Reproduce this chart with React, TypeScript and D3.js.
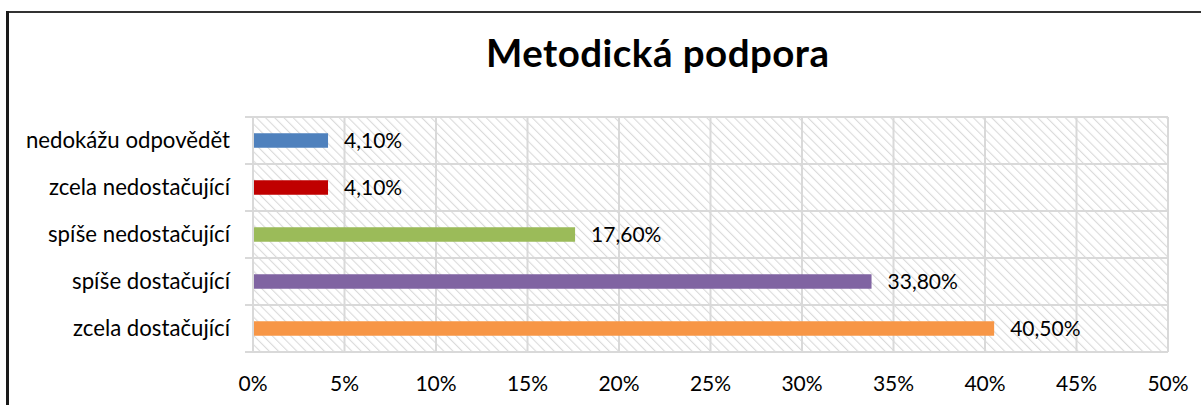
import React from "react";
import * as d3 from "d3";

const categories = [
  "nedokážu odpovědět",
  "zcela nedostačující",
  "spíše nedostačující",
  "spíše dostačující",
  "zcela dostačující",
];
const values = [4.1, 4.1, 17.6, 33.8, 40.5];
const valueLabels = ["4,10%", "4,10%", "17,60%", "33,80%", "40,50%"];
const colors = ["#4f81bd", "#c00000", "#9bbb59", "#8064a2", "#f79646"];
const ticks = [0, 5, 10, 15, 20, 25, 30, 35, 40, 45, 50];
const title = "Metodická podpora";

const W = 1201;
const H = 405;
const plot = { left: 253, right: 1168, top: 117, bottom: 352 };
const font = "Lato, 'Open Sans', sans-serif";
const grid = "#d9d9d9";

export default function App() {
  const x = d3.scaleLinear().domain([0, 50]).range([plot.left, plot.right]);
  const y = d3
    .scaleBand<string>()
    .domain(categories)
    .range([plot.top, plot.bottom])
    .paddingInner(0)
    .paddingOuter(0);
  const bw = y.bandwidth();
  const barH = 14.5;
  const rowLines = d3.range(categories.length + 1).map((i) => plot.top + i * bw);

  return (
    <svg
      width={W}
      height={H}
      style={{ position: "absolute", left: 0, top: 0, background: "#fff" }}
    >
      <defs>
        <pattern
          id="hatch"
          width={6.5}
          height={6.5}
          patternUnits="userSpaceOnUse"
          patternTransform="rotate(-45)"
        >
          <rect width={6.5} height={6.5} fill="#fff" />
          <line x1={0} y1={0} x2={0} y2={6.5} stroke="#dadada" strokeWidth={2.2} />
        </pattern>
      </defs>
      <rect x={0} y={0} width={W} height={H} fill="#fff" />
      {/* frame */}
      <rect x={6} y={11} width={W} height={2} fill="#333" />
      <rect x={6} y={11} width={3} height={H} fill="#1a1a1a" />

      <text
        x={657.5}
        y={67}
        textAnchor="middle"
        fontFamily={font}
        fontWeight={700}
        fontSize={38.5}
        textLength={343}
        lengthAdjust="spacing"
        fill="#000"
      >
        {title}
      </text>

      {/* plot background */}
      <rect
        x={plot.left}
        y={plot.top}
        width={plot.right - plot.left}
        height={plot.bottom - plot.top}
        fill="url(#hatch)"
      />
      {/* grid */}
      {ticks.map((t) => (
        <line
          key={"v" + t}
          x1={x(t)}
          x2={x(t)}
          y1={plot.top}
          y2={plot.bottom}
          stroke={grid}
          strokeWidth={2}
        />
      ))}
      {rowLines.map((ry, i) => (
        <line
          key={"h" + i}
          x1={plot.left - 8}
          x2={plot.right}
          y1={ry}
          y2={ry}
          stroke={grid}
          strokeWidth={2}
        />
      ))}

      {categories.map((c, i) => {
        const cy = (y(c) as number) + bw / 2;
        return (
          <g key={c}>
            <rect
              x={x(0) + 1}
              y={cy - barH / 2}
              width={x(values[i]) - x(0) - 1}
              height={barH}
              fill={colors[i]}
            />
            <text
              x={230}
              y={cy + 7.5}
              textAnchor="end"
              fontFamily={font}
              fontSize={22.2}
              fill="#000"
            >
              {c}
            </text>
            <text
              x={x(values[i]) + 16}
              y={cy + 7.5}
              fontFamily={font}
              fontSize={21}
              fill="#000"
            >
              {valueLabels[i]}
            </text>
          </g>
        );
      })}

      {ticks.map((t) => (
        <text
          key={"t" + t}
          x={x(t)}
          y={391}
          textAnchor="middle"
          fontFamily={font}
          fontSize={21}
          fill="#000"
        >
          {t + "%"}
        </text>
      ))}
    </svg>
  );
}
